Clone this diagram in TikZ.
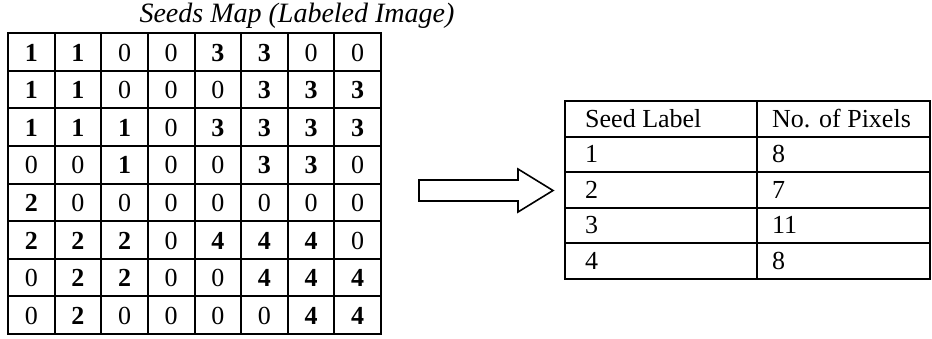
\documentclass[tikz,border=0pt]{standalone}
\usepackage{fontspec}
\setmainfont{Liberation Serif}
\begin{document}
\begin{tikzpicture}[x=1pt,y=-1pt,
  gridline/.style={line width=2pt,black},
  tabline/.style={line width=2pt,black},
  cellzero/.style={font=\fontsize{26}{30}\selectfont,inner sep=0pt,anchor=base},
  cellseed/.style={font=\fontsize{26}{30}\selectfont\bfseries,inner sep=0pt,anchor=base},
  tabtext/.style={font=\fontsize{26}{30}\selectfont,inner sep=0pt,anchor=base west},
  titletext/.style={font=\fontsize{28}{32}\selectfont\itshape,inner sep=0pt,anchor=base},
  blockarrow/.style={line width=1.6pt,black,fill=white,line join=miter}]
\useasboundingbox (0,0) rectangle (932,338);
% title
\node[titletext] (title) at (297,22) {Seeds Map (Labeled Image)};
% grid values
\def\cw{46.625}
\def\rh{37.625}
\foreach \row [count=\r] in {
  {1,1,0,0,3,3,0,0},
  {1,1,0,0,0,3,3,3},
  {1,1,1,0,3,3,3,3},
  {0,0,1,0,0,3,3,0},
  {2,0,0,0,0,0,0,0},
  {2,2,2,0,4,4,4,0},
  {0,2,2,0,0,4,4,4},
  {0,2,0,0,0,0,4,4}}{
  \foreach \v [count=\c] in \row {
    \ifnum\v=0
      \node[cellzero] (cell-\r-\c) at ({8+(\c-0.5)*\cw},{33+(\r-1)*\rh+28}) {\v};
    \else
      \node[cellseed] (cell-\r-\c) at ({8+(\c-0.5)*\cw},{33+(\r-1)*\rh+28}) {\v};
    \fi
  }
}
% grid lines
\foreach \i in {0,...,8}{
  \draw[gridline] ({8+\i*\cw},32) -- ({8+\i*\cw},335);
  \draw[gridline] (7,{33+\i*\rh}) -- (382,{33+\i*\rh});
}
% block arrow
\draw[blockarrow] (419,180) -- (518,180) -- (518,169) -- (553,190.5) -- (518,212) -- (518,201) -- (419,201) -- cycle;
% table
\def\th{35.6}
\foreach \i in {0,...,5}{
  \draw[tabline] (564,{101+\i*\th}) -- (931,{101+\i*\th});
}
\draw[tabline] (565,100) -- (565,280);
\draw[tabline] (757,100) -- (757,280);
\draw[tabline] (930,100) -- (930,280);
\node[tabtext] (h1) at (585,127) {Seed Label};
\node[tabtext] (h2) at (772,127) {No. of Pixels};
\foreach \a/\b [count=\k] in {1/8,2/7,3/11,4/8}{
  \node[tabtext] (l-\k) at (585,{127+\k*\th}) {\a};
  \node[tabtext] (n-\k) at (772,{127+\k*\th}) {\b};
}
\end{tikzpicture}
\end{document}
